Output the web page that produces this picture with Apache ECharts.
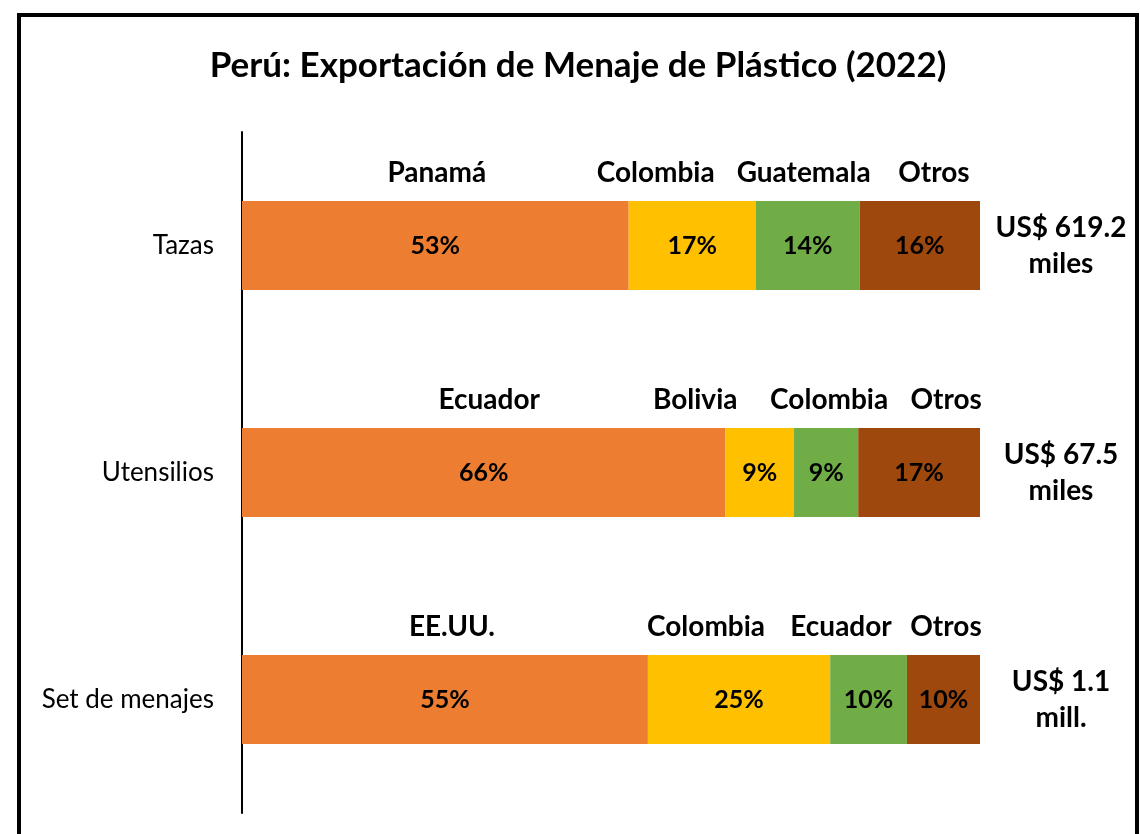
<!DOCTYPE html>
<html>
<head>
<meta charset="utf-8">
<script src="https://cdn.jsdelivr.net/npm/echarts@6/dist/echarts.min.js"></script>
<style>
  html, body { margin: 0; padding: 0; background: #fff; }
  #chart {
    position: absolute;
    left: 17px;
    top: 13px;
    width: 1114px;
    height: 830px;
    border: 4px solid #000;
  }
</style>
</head>
<body>
<div id="chart"></div>
<script>
// categorías (de arriba hacia abajo)
var categories = ['Tazas', 'Utensilios', 'Set de menajes'];
var totals = ['US$ 619.2\nmiles', 'US$ 67.5\nmiles', 'US$ 1.1\nmill.'];

// participación por destino (%)
var rank1 = [52.4, 65.5, 55.0];
var rank2 = [17.2, 9.3, 24.7];
var rank3 = [14.1, 8.7, 10.4];
var others = [16.3, 16.5, 9.9];

// etiquetas tal como aparecen
var rank1Pct = ['53%', '66%', '55%'];
var rank2Pct = ['17%', '9%', '25%'];
var rank3Pct = ['14%', '9%', '10%'];
var othersPct = ['16%', '17%', '10%'];

var rank1Names = ['Panamá', 'Ecuador', 'EE.UU.'];
var rank2Names = ['Colombia', 'Bolivia', 'Colombia'];
var rank3Names = ['Guatemala', 'Colombia', 'Ecuador'];
var othersNames = ['Otros', 'Otros', 'Otros'];

var colors = ['#ED7D31', '#FFC000', '#70AD47', '#9E480E'];

// desplazamiento horizontal de los nombres de país (px)
var nameShift = [
    [1.5, 5.5, 7],
    [-36.5, -64.5, -33],
    [-4, 3, -27.5],
    [14, 27, 2.5]
];

var font = 'Lato, "Noto Sans", sans-serif';
var dom = document.getElementById('chart');
var myChart = echarts.init(dom);

var groups = [
    [rank1, rank1Pct, rank1Names],
    [rank2, rank2Pct, rank2Names],
    [rank3, rank3Pct, rank3Names],
    [others, othersPct, othersNames]
];

var series = [];
groups.forEach(function (g, i) {
    series.push({
        type: 'bar',
        stack: 'share',
        barWidth: 89,
        barGap: '-100%',
        itemStyle: { color: colors[i] },
        label: {
            show: true,
            position: 'inside',
            color: '#000',
            fontFamily: font,
            fontWeight: 'bold',
            fontSize: 25,
            formatter: function (p) { return g[1][p.dataIndex]; }
        },
        silent: true,
        data: g[0]
    });
});
groups.forEach(function (g, i) {
    series.push({
        type: 'bar',
        stack: 'names',
        barWidth: 89,
        barGap: '-100%',
        itemStyle: { color: 'rgba(0,0,0,0)' },
        label: {
            show: true,
            position: 'top',
            distance: 14,
            color: '#000',
            fontFamily: font,
            fontWeight: 'bold',
            fontSize: 28,
            formatter: function (p) { return g[2][p.dataIndex]; }
        },
        silent: true,
        data: g[0].map(function (v, j) {
            return { value: v, label: { offset: [nameShift[i][j], 0] } };
        })
    });
});

option = {
    animation: false,
    title: {
        text: 'Perú: Exportación de Menaje de Plástico (2022)',
        left: 'center',
        top: 26,
        textStyle: {
            fontFamily: font,
            fontWeight: 'bold',
            fontSize: 35,
            color: '#000'
        }
    },
    grid: {
        left: 221,
        right: 155,
        top: 115,
        bottom: 34
    },
    xAxis: {
        type: 'value',
        min: 0,
        max: 100,
        show: false
    },
    yAxis: [
        {
            type: 'category',
            inverse: true,
            data: categories,
            axisLine: { lineStyle: { color: '#000', width: 2 } },
            axisTick: { show: false },
            axisLabel: {
                margin: 28,
                color: '#000',
                fontFamily: font,
                fontSize: 26
            }
        },
        {
            type: 'category',
            inverse: true,
            position: 'right',
            data: totals,
            axisLine: { show: false },
            axisTick: { show: false },
            axisLabel: {
                margin: 81,
                align: 'center',
                color: '#000',
                fontFamily: font,
                fontWeight: 'bold',
                fontSize: 28,
                lineHeight: 36,
                padding: [0, 0, 8, 0]
            }
        }
    ],
    series: series
};

if (option && typeof option === 'object') {
    myChart.setOption(option, true);
}
</script>
</body>
</html>
